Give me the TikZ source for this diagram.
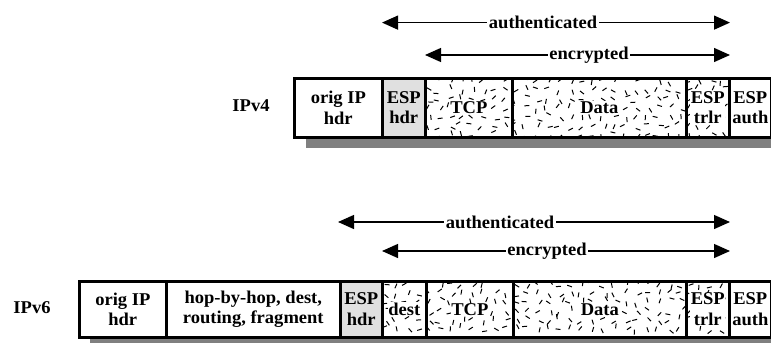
\documentclass[tikz,border=0pt]{standalone}
\usepackage{fontspec}
\setmainfont{Liberation Serif}[FakeStretch=1.03]
\usetikzlibrary{arrows.meta,calc}
\newcommand{\confetti}[4]{%
  \begin{scope}
    \clip (#1,#2) rectangle (#3,#4);
    \pgfmathsetmacro{\xa}{#1+4}\pgfmathsetmacro{\xb}{#1+15}%
    \pgfmathsetmacro{\ya}{#2+4}\pgfmathsetmacro{\yb}{#2+13}%
    \foreach \gx in {\xa,\xb,...,#3}{%
      \foreach \gy in {\ya,\yb,...,#4}{%
        \pgfmathsetmacro{\cx}{\gx+rand*3.5}%
        \pgfmathsetmacro{\cy}{\gy+rand*3.5}%
        \pgfmathsetmacro{\ca}{rnd*180}%
        \draw[confdash] (\cx,\cy) ++(\ca:2.5) -- ++(\ca+180:5);
      }%
    }
  \end{scope}}
\begin{document}
\begin{tikzpicture}[x=1pt,y=-1pt,
  cell/.style={draw=black,line width=2.6pt,inner sep=0pt,anchor=north west},
  hdrcell/.style={cell,fill=black!12},
  lbl/.style={font=\fontsize{18}{20.5}\selectfont\bfseries,align=center,inner sep=0.5pt},
  plbl/.style={lbl,fill=white},
  span/.style={line width=1.3pt,{Triangle[length=16pt,width=14pt]}-{Triangle[length=16pt,width=14pt]}},
  spanlbl/.style={lbl,fill=white,inner xsep=1.5pt},
  shadow/.style={fill=black!50,draw=none},
  confdash/.style={line width=1pt,black}
]
\useasboundingbox (0,0) rectangle (771,343);
\pgfmathsetseed{4711}

% ---------- IPv4 ----------
\fill[shadow] (306,136) rectangle (771,148);
\confetti{424}{77}{511}{136}
\confetti{511}{77}{685}{136}
\confetti{685}{77}{728}{136}
\node[cell,minimum width=88pt,minimum height=59pt] (o4) at (293,77) {};
\node[hdrcell,minimum width=43pt,minimum height=59pt] (e4) at (381,77) {};
\node[cell,minimum width=87pt,minimum height=59pt] (tcp4) at (424,77) {};
\node[cell,minimum width=174pt,minimum height=59pt] (d4) at (511,77) {};
\node[cell,minimum width=43pt,minimum height=59pt] (tr4) at (685,77) {};
\node[cell,minimum width=42pt,minimum height=59pt] (au4) at (728,77) {};
\node[lbl] (to4) at (o4.center) {orig IP\\hdr};
\node[lbl] (te4) at (e4.center) {ESP\\hdr};
\node[plbl] (tt4) at (tcp4.center) {TCP};
\node[plbl] (td4) at (d4.center) {Data};
\node[plbl] (ttr4) at (tr4.center) {ESP\\trlr};
\node[lbl] (tau4) at (au4.center) {ESP\\auth};
\node[lbl] (v4) at (251,106) {IPv4};

\coordinate (a4l) at (382,22.6);
\coordinate (a4r) at (730,22.6);
\coordinate (c4l) at (425,55);
\coordinate (c4r) at (730,55);
\draw[span] (a4l) -- (a4r);
\draw[span] (c4l) -- (c4r);
\node[spanlbl] (la4) at (543,22.6) {authenticated};
\node[spanlbl] (lc4) at (589,55) {encrypted};

% ---------- IPv6 ----------
\fill[shadow] (90,336) rectangle (771,343);
\confetti{381}{280}{425}{336}
\confetti{425}{280}{512}{336}
\confetti{512}{280}{685}{336}
\confetti{685}{280}{728}{336}
\node[cell,minimum width=87pt,minimum height=56pt] (o6) at (78,280) {};
\node[cell,minimum width=174pt,minimum height=56pt] (h6) at (165,280) {};
\node[hdrcell,minimum width=42pt,minimum height=56pt] (e6) at (339,280) {};
\node[cell,minimum width=44pt,minimum height=56pt] (ds6) at (381,280) {};
\node[cell,minimum width=87pt,minimum height=56pt] (tcp6) at (425,280) {};
\node[cell,minimum width=173pt,minimum height=56pt] (d6) at (512,280) {};
\node[cell,minimum width=43pt,minimum height=56pt] (tr6) at (685,280) {};
\node[cell,minimum width=42pt,minimum height=56pt] (au6) at (728,280) {};
\node[lbl] (to6) at (o6.center) {orig IP\\hdr};
\node[lbl] (th6) at (h6.center) {hop-by-hop, dest,\\routing, fragment};
\node[lbl] (te6) at (e6.center) {ESP\\hdr};
\node[plbl] (tds6) at (ds6.center) {dest};
\node[plbl] (tt6) at (tcp6.center) {TCP};
\node[plbl] (td6) at (d6.center) {Data};
\node[plbl] (ttr6) at (tr6.center) {ESP\\trlr};
\node[lbl] (tau6) at (au6.center) {ESP\\auth};
\node[lbl] (v6) at (32,308) {IPv6};

\coordinate (a6l) at (338,222);
\coordinate (a6r) at (730,222);
\coordinate (c6l) at (382,251);
\coordinate (c6r) at (730,251);
\draw[span] (a6l) -- (a6r);
\draw[span] (c6l) -- (c6r);
\node[spanlbl] (la6) at (500,222) {authenticated};
\node[spanlbl] (lc6) at (547,251) {encrypted};
\end{tikzpicture}
\end{document}
